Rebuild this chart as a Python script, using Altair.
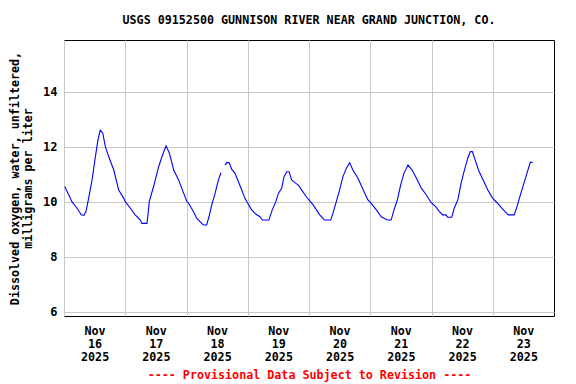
import altair as alt
import pandas as pd

# hours after 2025-11-16 00:00
hours = [0.3, 3.1, 5.1, 6.8, 7.8, 8.6, 9.4, 11.0, 12.3, 13.3, 14.2, 15.2, 16.2, 17.5, 19.5, 21.4, 23.4, 24.0,
         26.0, 27.9, 29.9, 30.5, 32.5, 33.0, 33.4, 35.1, 37.1, 38.4, 40.0, 41.3, 43.0, 44.9, 46.9, 48.2,
         48.7, 50.7, 52.0, 53.3, 54.6, 55.9, 56.8, 57.9, 59.2, 60.5, 61.5, 62.3, 63.1, 63.8, 64.7, 65.7,
         67.0, 68.3, 69.6, 70.9, 72.0,
         73.5, 75.5, 76.8, 77.7, 80.3, 81.6, 83.0, 84.0, 85.3, 86.2, 87.3, 88.2, 89.2, 90.5, 91.8, 93.1,
         95.1, 96.4,
         97.6, 98.9, 100.2, 101.1, 102.1, 104.5, 105.4, 106.7, 108.0, 109.3, 110.6, 111.9, 113.2, 115.2,
         117.2, 119.1, 120.4,
         122.4, 124.3, 126.7, 128.2, 129.3, 130.6, 131.9, 133.2, 134.8, 136.4, 138.1, 140.0, 142.0, 143.8,
         145.8, 147.1, 148.4, 149.7, 150.3, 151.9, 152.9, 154.3, 155.6, 156.9, 158.2, 159.2, 160.0, 161.1,
         162.4, 164.5, 166.0, 168.0,
         169.7, 171.2, 172.8, 174.1, 176.4, 177.5, 178.8, 180.4, 181.9, 182.7, 183.6]

oxygen = [10.55, 10.0, 9.76, 9.52, 9.5, 9.64, 10.0, 10.79, 11.64, 12.24, 12.6, 12.49, 12.0, 11.64, 11.15, 10.43, 10.12, 10.0,
          9.76, 9.52, 9.33, 9.21, 9.21, 9.6, 10.0, 10.55, 11.27, 11.64, 12.03, 11.76, 11.15, 10.79, 10.3, 10.0,
          9.96, 9.64, 9.4, 9.27, 9.15, 9.15, 9.45, 9.88, 10.3, 10.79, 11.05, None, 11.33, 11.42, 11.42, 11.18,
          11.03, 10.73, 10.43, 10.12, 9.94,
          9.7, 9.52, 9.45, 9.33, 9.33, 9.7, 10.0, 10.3, 10.49, 10.91, 11.09, 11.09, 10.79, 10.69, 10.6, 10.43,
          10.16, 10.02,
          9.88, 9.7, 9.52, 9.43, 9.33, 9.33, 9.58, 10.0, 10.43, 10.91, 11.21, 11.42, 11.15, 10.85,
          10.43, 10.06, 9.94,
          9.7, 9.45, 9.33, 9.33, 9.7, 10.06, 10.6, 11.03, 11.33, 11.15, 10.85, 10.49, 10.24, 9.97,
          9.8, 9.64, 9.52, 9.52, 9.43, 9.43, 9.76, 10.06, 10.67, 11.15, 11.58, 11.82, 11.82, 11.52,
          11.15, 10.73, 10.43, 10.12,
          9.96, 9.8, 9.64, 9.52, 9.52, 9.82, 10.24, 10.73, 11.18, 11.43, 11.43]

day_ticks = [0, 24, 48, 72, 96, 120, 144, 168]
y_ticks = [6, 8, 10, 12, 14]

df = pd.DataFrame({"hours": hours, "oxygen": oxygen})

FONT = "DejaVu Sans Mono"

chart = alt.Chart(df).mark_line(color="#0000FF", strokeWidth=1.1, interpolate="linear").encode(
    x=alt.X(
        "hours:Q",
        scale=alt.Scale(domain=[0, 192], nice=False, zero=False),
        axis=alt.Axis(
            values=day_ticks,
            labelExpr="['Nov', toString(16 + datum.value / 24), '2025']",
            labelOffset=30.6,
            labelFlush=False,
            labelOverlap=False,
            labelPadding=9,
            labelLineHeight=13,
            labelFontSize=11.7,
            labelFont=FONT,
            labelFontWeight="bold",
            labelColor="black",
            labelBaseline="top",
            labelAlign="center",
            ticks=False,
            tickSize=0,
            domain=False,
            grid=True,
            gridColor="#C8C8C8",
            gridWidth=1,
            title="---- Provisional Data Subject to Revision ----",
            titleColor="#FF0000",
            titleFont=FONT,
            titleFontSize=11.7,
            titleFontWeight="bold",
            titlePadding=7,
        ),
    ),
    y=alt.Y(
        "oxygen:Q",
        scale=alt.Scale(domain=[5.84, 15.88], nice=False, zero=False),
        axis=alt.Axis(
            values=y_ticks,
            format="d",
            labelPadding=7,
            labelFontSize=12,
            labelFont=FONT,
            labelFontWeight="bold",
            labelColor="black",
            ticks=False,
            tickSize=0,
            domain=False,
            grid=True,
            gridColor="#C8C8C8",
            gridWidth=1,
            title=["Dissolved oxygen, water, unfiltered,", "milligrams per liter"],
            titleFont=FONT,
            titleFontSize=11.7,
            titleFontWeight="bold",
            titleColor="black",
            titleLineHeight=13.5,
            titlePadding=9,
        ),
    ),
).properties(
    width=490,
    height=276,
    background="white",
    title=alt.TitleParams(
        "USGS 09152500 GUNNISON RIVER NEAR GRAND JUNCTION, CO.",
        font=FONT,
        fontSize=11.7,
        fontWeight="bold",
        color="black",
        anchor="middle",
        offset=13,
    ),
    autosize=alt.AutoSizeParams(type="none"),
    padding={"left": 56, "top": 32, "right": 14, "bottom": 67},
).configure_view(
    stroke="black", strokeWidth=1
)

chart.save("out.html", embed_options={"renderer": "svg", "actions": False})
